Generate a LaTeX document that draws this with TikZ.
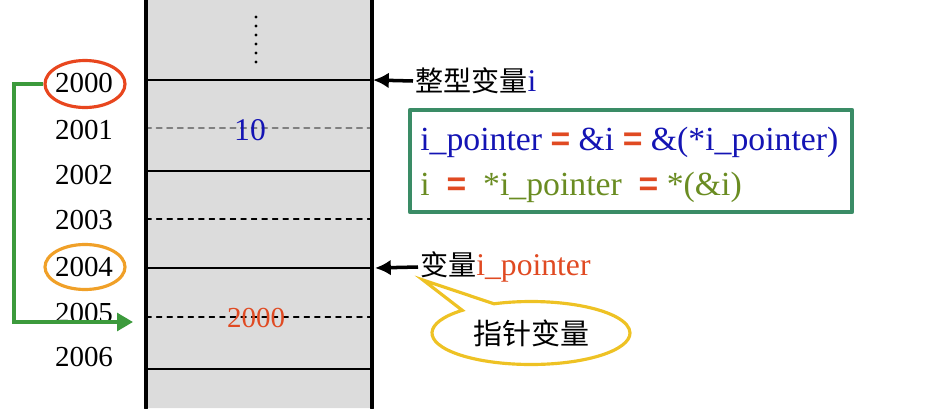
\documentclass[tikz,border=0pt]{standalone}
\usepackage{fontspec}
\setmainfont{Liberation Serif}
\newfontfamily\cjk{Noto Sans CJK SC}
\newfontfamily\eqsign{Liberation Sans}
\usepackage{tikz}
\usepackage{tkz-euclide}
\usepackage{xcolor}
\usetikzlibrary{arrows.meta,shapes.geometric,shapes.callouts}

\definecolor{memgray}{HTML}{DCDCDC}
\definecolor{valblue}{HTML}{1414B4}
\definecolor{valred}{HTML}{E04A22}
\definecolor{olive}{HTML}{6A8C22}
\definecolor{linkgreen}{HTML}{3C9A3C}
\definecolor{boxgreen}{HTML}{3A8C66}
\definecolor{ringred}{HTML}{E8461E}
\definecolor{ringorange}{HTML}{F0A028}
\definecolor{noteyellow}{HTML}{EEC224}

\newcommand{\redeq}{\textcolor{valred}{\eqsign\bfseries =}}

\begin{document}
\begin{tikzpicture}[
	addr/.style={font=\fontsize{16.5}{18}\selectfont},
	ring/.style={ellipse,line width=1.8pt,minimum width=1.6cm,minimum height=0.94cm},
	ptr/.style={line width=2pt,-{Latex[length=9pt,width=9pt]}},
	lbl/.style={anchor=west,inner sep=1pt,font=\fontsize{16}{18}\selectfont},
	eq/.style={anchor=west,inner sep=0pt,font=\fontsize{19.2}{21}\selectfont}]
	\useasboundingbox (0,0) rectangle (18.62,8.16);
	% memory column
	\tkzDefPoints{2.92/0/M1,7.44/0/M2,7.44/8.16/M3,2.92/8.16/M4}
	\tkzFillPolygon[color=memgray](M1,M2,M3,M4)
	\tkzDefPoints{2.92/6.56/R1,7.44/6.56/S1,2.92/5.60/R2,7.44/5.60/S2,
		2.92/4.74/R3,7.44/4.74/S3,2.92/3.78/R4,7.44/3.78/S4,
		2.92/2.80/R5,7.44/2.80/S5,2.92/1.82/R6,7.44/1.82/S6,
		2.92/0.78/R7,7.44/0.78/S7}
	\tkzDrawSegments[black,line width=1.1pt](R1,S1 R3,S3 R5,S5 R7,S7)
	\tkzDrawSegments[gray,dashed,line width=1pt](R2,S2)
	\tkzDrawSegments[black,dashed,line width=0.6pt](R4,S4 R6,S6)
	\tkzDrawSegments[black,line width=2.5pt](M1,M4 M2,M3)
	\foreach \k in {0,...,5}
		\fill (5.12,7.82-0.18*\k) circle (0.032);
	\node[addr,text=valblue,font=\fontsize{18}{20}\selectfont] (v10) at (5.0,5.56) {10};
	\node[addr,text=valred] (v2000) at (5.12,1.80) {2000};
	% addresses
	\foreach \a/\y in {2000/6.50,2001/5.56,2002/4.66,2003/3.76,2004/2.82,2005/1.90,2006/1.02}
		\node[addr] (a\a) at (1.68,\y) {\a};
	\node[ring,draw=ringred] (c2000) at (1.70,6.48) {};
	\node[ring,draw=ringorange,minimum height=0.9cm] (c2004) at (1.70,2.82) {};
	\coordinate (p2005) at (2.66,1.72);
	\draw[linkgreen,line width=2pt,-{Triangle[length=9pt,width=10pt]}]
		(c2000.west) -- (0.28,6.48) |- (p2005);
	% variable names
	\coordinate (pi) at (7.46,6.56);
	\coordinate (pp) at (7.50,2.80);
	\node[lbl] (ni) at (8.26,6.54) {{\cjk 整型变量}\textcolor{valblue}{\fontsize{18}{20}\selectfont i}};
	\node[lbl] (np) at (8.36,2.82) {{\cjk 变量}\textcolor{valred}{\fontsize{18}{20}\selectfont i\_pointer}};
	\draw[ptr] (ni.west) -- (pi);
	\draw[ptr] (np.west) -- (pp);
	% relations
	\tkzDefPoints{8.20/5.96/B1,17.04/5.96/B2,17.04/3.92/B3,8.20/3.92/B4}
	\tkzDrawPolygon[boxgreen,line width=2.4pt](B1,B2,B3,B4)
	\node[eq,text=valblue] (eq1) at (8.40,5.32)
		{i\_pointer \redeq{} \&i \redeq{} \&(*i\_pointer)};
	\node[eq,text=olive] (eq2) at (8.40,4.42)
		{i \ \redeq{} \ *i\_pointer \ \redeq{} *(\&i)};
	% note
	\node[ellipse callout,draw=noteyellow,line width=1.8pt,fill=white,
		minimum width=3.96cm,minimum height=1.26cm,
		callout absolute pointer={(8.46,2.56)},callout pointer arc=22,
		font=\fontsize{16.5}{18}\selectfont] (note) at (10.62,1.50) {\cjk 指针变量};
\end{tikzpicture}
\end{document}
